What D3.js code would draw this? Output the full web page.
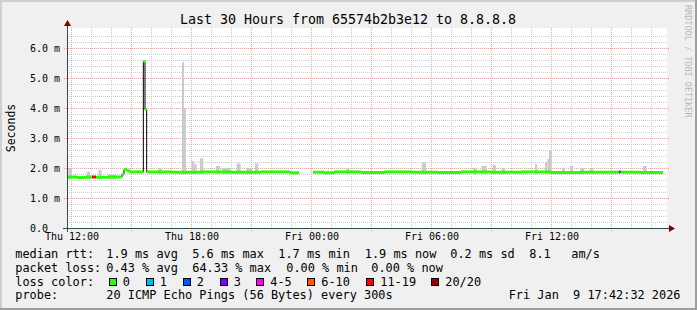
<!DOCTYPE html>
<html><head><meta charset="utf-8">
<script src="https://cdn.jsdelivr.net/npm/d3@7"></script>
<style>html,body{margin:0;padding:0;background:#f0f0f0}svg{display:block}text{font-family:"DejaVu Sans Mono",monospace}</style>
</head><body><svg id="c" width="697" height="310"></svg>
<script>
// ---------- data ----------
const title = "Last 30 Hours from 65574b2b3e12 to 8.8.8.8";
const yLabel = "Seconds";
const yMajorTicks = [0, 1, 2, 3, 4, 5, 6];               // ms
const yTickLabels = ["0.0  ", "1.0 m", "2.0 m", "3.0 m", "4.0 m", "5.0 m", "6.0 m"];
const xTickTimes = ["2026-01-08 12:00", "2026-01-08 18:00", "2026-01-09 00:00", "2026-01-09 06:00", "2026-01-09 12:00"];
const xTickLabels = ["Thu 12:00", "Thu 18:00", "Fri 00:00", "Fri 06:00", "Fri 12:00"];

// median rtt runs (start time, value ms, loss bucket index); null = no data
const medianStart = ["2026-01-08 11:48","2026-01-08 12:20","2026-01-08 12:45","2026-01-08 13:03","2026-01-08 13:15","2026-01-08 13:50",
  "2026-01-08 14:33","2026-01-08 14:39","2026-01-08 14:48","2026-01-08 14:57","2026-01-08 15:37","2026-01-08 15:42","2026-01-08 15:47",
  "2026-01-08 17:00","2026-01-08 18:30","2026-01-08 20:00","2026-01-08 21:30","2026-01-08 22:57","2026-01-08 23:24",
  "2026-01-09 00:06","2026-01-09 00:40","2026-01-09 01:10","2026-01-09 02:30","2026-01-09 03:40","2026-01-09 05:00","2026-01-09 06:20",
  "2026-01-09 07:30","2026-01-09 09:00","2026-01-09 10:30","2026-01-09 12:00","2026-01-09 13:30","2026-01-09 15:24","2026-01-09 15:29",
  "2026-01-09 16:30"];
const medianValue = [1.70,1.68,1.70,1.70,1.69,1.70,
  1.79,1.95,1.90,1.87,5.55,3.95,1.87,
  1.86,1.87,1.86,1.87,1.84,null,
  1.86,1.84,1.87,1.85,1.87,1.86,1.85,
  1.87,1.86,1.87,1.85,1.86,1.87,1.86,
  1.85];
const medianLoss = [0,0,0,6,0,0, 0,0,0,0,0,0,0, 0,0,0,0,0,0, 0,0,0,0,0,0,0, 0,0,0,0,0,3,0, 0];
const medianEnd = "2026-01-09 17:36";

// smoke (ping spread) bars: start, end, low ms, high ms
const smokeStart = ["2026-01-08 11:52","2026-01-08 12:47","2026-01-08 13:22","2026-01-08 13:51","2026-01-08 16:22","2026-01-08 17:33","2026-01-08 17:39",
  "2026-01-08 18:02","2026-01-08 18:10","2026-01-08 18:27","2026-01-08 19:15","2026-01-08 19:32","2026-01-08 20:17","2026-01-08 20:47","2026-01-08 21:12",
  "2026-01-09 00:48","2026-01-09 01:47","2026-01-09 05:32","2026-01-09 08:06","2026-01-09 08:32","2026-01-09 09:05","2026-01-09 09:32",
  "2026-01-09 11:12","2026-01-09 11:42","2026-01-09 11:49","2026-01-09 11:54","2026-01-09 12:32","2026-01-09 12:57","2026-01-09 13:27",
  "2026-01-09 13:57","2026-01-09 16:36"];
const smokeEnd = ["2026-01-08 12:02","2026-01-08 12:57","2026-01-08 13:32","2026-01-08 14:17","2026-01-08 16:32","2026-01-08 17:39","2026-01-08 17:45",
  "2026-01-08 18:10","2026-01-08 18:17","2026-01-08 18:37","2026-01-08 19:27","2026-01-08 19:57","2026-01-08 20:29","2026-01-08 21:03","2026-01-08 21:22",
  "2026-01-09 00:54","2026-01-09 01:55","2026-01-09 05:45","2026-01-09 08:17","2026-01-09 08:47","2026-01-09 09:15","2026-01-09 09:42",
  "2026-01-09 11:19","2026-01-09 11:49","2026-01-09 11:54","2026-01-09 12:02","2026-01-09 12:42","2026-01-09 13:07","2026-01-09 13:39",
  "2026-01-09 14:07","2026-01-09 16:47"];
const smokeLow = [1.62,1.62,1.62,1.62,1.80,1.80,1.80, 1.80,1.80,1.80,1.80,1.80,1.80,1.80,1.80,
  1.80,1.80,1.80,1.80,1.80,1.80,1.80, 1.80,1.80,1.80,1.80,1.80,1.80,1.80, 1.80,1.80];
const smokeHigh = [1.99,1.88,1.93,1.78,2.00,5.53,3.98, 2.23,2.13,2.32,2.07,2.00,2.15,2.00,2.15,
  1.92,2.00,2.18,2.00,2.07,2.10,2.00, 2.13,2.20,2.30,2.60,2.00,2.07,2.00, 1.97,2.07];

const lossLabels = ["0", "1", "2", "3", "4-5", "6-10", "11-19", "20/20"];
const lossColors = ["#26ff00", "#00b8ff", "#0059ff", "#7e00ff", "#ff00ff", "#ff5500", "#ff0000", "#a10000"];

const legendMedian = [["median rtt:", 16], ["1.9 ms avg", 107], ["5.6 ms max", 193], ["1.7 ms min", 279], ["1.9 ms now", 365.5], ["0.2 ms sd", 451], ["8.1", 530], ["am/s", 572]];
const legendLoss = [["packet loss:", 16], ["0.43 % avg", 107], ["64.33 % max", 193], ["0.00 % min", 287], ["0.00 % now", 372]];
const lossBoxX = [108.5, 145.5, 182.5, 219.5, 256, 307, 366, 431];
const probeText = "20 ICMP Echo Pings (56 Bytes) every 300s";
const stampText = "Fri Jan  9 17:42:32 2026";
const watermark = "RRDTOOL / TOBI OETIKER";

// ---------- drawing ----------
const parse = d3.timeParse("%Y-%m-%d %H:%M");
const svg = d3.select("#c");
const W = 697, H = 310;
const X0 = 67, X1 = 667, Y0 = 228, Y1 = 28;

const x = d3.scaleTime().domain([parse("2026-01-08 11:48"), parse("2026-01-09 17:48")]).range([X0, X1]);
const y = d3.scaleLinear().domain([0, 20 / 3]).range([Y0, Y1]);

// background and shade
svg.append("rect").attr("width", W).attr("height", H).attr("fill", "#f0f0f0");
svg.append("rect").attr("x", 0).attr("y", 0).attr("width", W).attr("height", 2).attr("fill", "#cfcfcf");
svg.append("rect").attr("x", 0).attr("y", 0).attr("width", 2).attr("height", H).attr("fill", "#cfcfcf");
svg.append("rect").attr("x", 0).attr("y", H - 2).attr("width", W).attr("height", 2).attr("fill", "#9e9e9e");
svg.append("rect").attr("x", W - 2).attr("y", 0).attr("width", 2).attr("height", H).attr("fill", "#9e9e9e");

// canvas
svg.append("rect").attr("x", X0).attr("y", Y1).attr("width", X1 - X0).attr("height", Y0 - Y1).attr("fill", "#ffffff");

const g = svg.append("g").attr("shape-rendering", "crispEdges");
// minor horizontal grid
const yMinor = d3.range(0, 33).map(i => i * 0.2).filter(v => Math.abs(v - Math.round(v)) > 1e-6);
g.selectAll(".hmin").data(yMinor).join("line")
  .attr("x1", X0).attr("x2", X1)
  .attr("y1", d => Math.round(y(d)) + 0.5).attr("y2", d => Math.round(y(d)) + 0.5)
  .attr("stroke", "#c8c8c8").attr("stroke-dasharray", "1,1");
// minor vertical grid (hourly)
const hours = x.ticks(d3.timeHour.every(1)).filter(t => t.getHours() % 3 !== 0);
g.selectAll(".vmin").data(hours).join("line")
  .attr("x1", d => Math.round(x(d)) + 0.5).attr("x2", d => Math.round(x(d)) + 0.5)
  .attr("y1", Y1).attr("y2", Y0)
  .attr("stroke", "#c8c8c8").attr("stroke-dasharray", "1,1");
// major horizontal grid
g.selectAll(".hmaj").data(yMajorTicks.filter(v => v > 0)).join("line")
  .attr("x1", X0 - 3).attr("x2", X1 + 2)
  .attr("y1", d => Math.round(y(d)) + 0.5).attr("y2", d => Math.round(y(d)) + 0.5)
  .attr("stroke", "#f0a0a0").attr("stroke-dasharray", "1,1");
// major vertical grid (3-hourly)
const h3 = x.ticks(d3.timeHour.every(3));
g.selectAll(".vmaj").data(h3).join("line")
  .attr("x1", d => Math.round(x(d)) + 0.5).attr("x2", d => Math.round(x(d)) + 0.5)
  .attr("y1", Y1).attr("y2", Y0 + 3)
  .attr("stroke", "#f0a0a0").attr("stroke-dasharray", "1,1");

// smoke
svg.append("g").selectAll("rect").data(smokeStart.map((s, i) => ({s: parse(s), e: parse(smokeEnd[i]), lo: smokeLow[i], hi: smokeHigh[i]})))
  .join("rect")
  .attr("x", d => x(d.s)).attr("width", d => x(d.e) - x(d.s))
  .attr("y", d => y(d.hi)).attr("height", d => y(d.lo) - y(d.hi))
  .attr("fill", "#cbcbcb");

// median runs
const runs = medianStart.map((s, i) => ({
  s: parse(s), e: parse(i + 1 < medianStart.length ? medianStart[i + 1] : medianEnd),
  v: medianValue[i], loss: medianLoss[i]
}));
const line = d3.line().x(d => x(d.t)).y(d => y(d.v)).curve(d3.curveStepAfter);
const segs = [];
let cur = [];
runs.forEach(r => {
  if (r.v === null) { if (cur.length) { cur.push({t: r.s, v: cur[cur.length - 1].v}); segs.push(cur); } cur = []; }
  else cur.push({t: r.s, v: r.v});
});
if (cur.length) { cur.push({t: parse(medianEnd), v: cur[cur.length - 1].v}); segs.push(cur); }
svg.append("g").selectAll("path").data(segs).join("path")
  .attr("d", d => line(d)).attr("fill", "none").attr("stroke", "#000").attr("stroke-width", 1);
svg.append("g").selectAll("rect").data(runs.filter(r => r.v !== null)).join("rect")
  .attr("x", d => x(d.s)).attr("width", d => x(d.e) - x(d.s))
  .attr("y", d => y(d.v) - 1.5).attr("height", 3)
  .attr("fill", d => lossColors[d.loss]);

// axes
const ax = svg.append("g").attr("shape-rendering", "crispEdges");
ax.append("line").attr("x1", X0 - 4).attr("x2", X1 + 4).attr("y1", Y0 + 0.5).attr("y2", Y0 + 0.5).attr("stroke", "#2c4d43");
ax.append("line").attr("x1", X0 + 0.5).attr("x2", X0 + 0.5).attr("y1", Y0 + 4).attr("y2", Y1 - 4).attr("stroke", "#2c4d43");
svg.append("path").attr("d", `M${X0 - 3},${Y1 - 2}L${X0 + 4},${Y1 - 2}L${X0 + 0.5},${Y1 - 8}Z`).attr("fill", "#7f0000");
svg.append("path").attr("d", `M${X1 + 2},${Y0 - 3}L${X1 + 2},${Y0 + 4}L${X1 + 8},${Y0 + 0.5}Z`).attr("fill", "#7f0000");

// y labels
svg.append("g").selectAll("text").data(yMajorTicks).join("text")
  .attr("x", 60).attr("y", d => y(d) + 4)
  .attr("text-anchor", "end").attr("font-size", "10px").attr("fill", "#000")
  .attr("xml:space", "preserve")
  .text((d, i) => yTickLabels[i]);
// x labels
svg.append("g").selectAll("text").data(xTickTimes).join("text")
  .attr("x", d => x(parse(d)) + 1).attr("y", 240)
  .attr("text-anchor", "middle").attr("font-size", "10px").attr("fill", "#000")
  .text((d, i) => xTickLabels[i]);

// title
svg.append("text").attr("x", 348).attr("y", 24).attr("text-anchor", "middle")
  .attr("font-size", "13.3px").attr("fill", "#000").text(title);
// vertical label
svg.append("text").attr("transform", "translate(15,128) rotate(-90)").attr("text-anchor", "middle")
  .attr("font-size", "11.5px").attr("fill", "#000").text(yLabel);
// watermark
svg.append("text").attr("transform", "translate(685,5) rotate(90)").attr("text-anchor", "start")
  .attr("font-size", "8.5px").attr("fill", "#b8b8b8").text(watermark);

// legend
const LF = "11.9px";
const rowY = [258.3, 271.7, 285.7, 299.3];
const leg = svg.append("g").attr("font-size", LF).attr("fill", "#000");
legendMedian.forEach(([t, px]) => leg.append("text").attr("x", px - 0.7).attr("y", rowY[0]).attr("xml:space", "preserve").text(t));
legendLoss.forEach(([t, px]) => leg.append("text").attr("x", px - 0.7).attr("y", rowY[1]).attr("xml:space", "preserve").text(t));
leg.append("text").attr("x", 15.3).attr("y", rowY[2]).text("loss color:");
lossLabels.forEach((t, i) => {
  svg.append("rect").attr("x", lossBoxX[i] + 0.5).attr("y", 278.5).attr("width", 7).attr("height", 7)
    .attr("fill", lossColors[i]).attr("stroke", "#000").attr("stroke-width", 1).attr("shape-rendering", "crispEdges");
  leg.append("text").attr("x", lossBoxX[i] + 14.3).attr("y", rowY[2]).text(t);
});
leg.append("text").attr("x", 15.3).attr("y", rowY[3]).text("probe:");
leg.append("text").attr("x", 106.3).attr("y", rowY[3]).text(probeText);
leg.append("text").attr("x", 680.5).attr("y", rowY[3]).attr("text-anchor", "end").attr("xml:space", "preserve").text(stampText);
</script>
</body></html>
